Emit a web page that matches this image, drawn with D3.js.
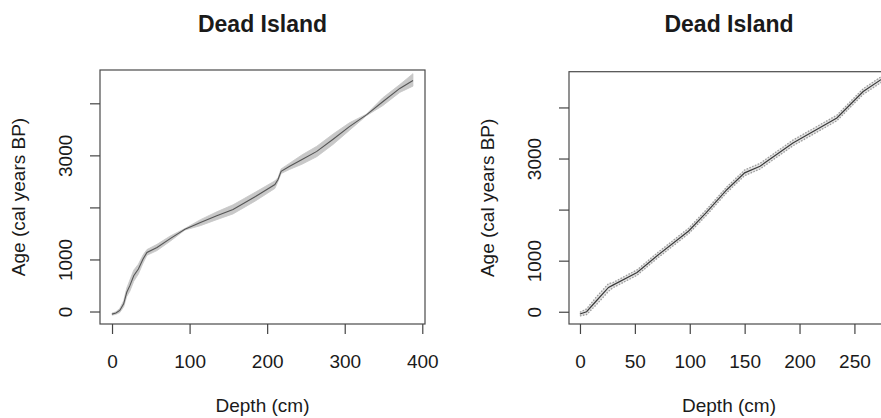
<!DOCTYPE html>
<html>
<head>
<meta charset="utf-8">
<script src="https://cdn.jsdelivr.net/npm/d3@7"></script>
<style>
	body { margin: 0; background: #fff; }
	text { font-family: "Liberation Sans", Arial, sans-serif; fill: #1a1a1a; }
	.title { font-weight: bold; font-size: 23px; }
	.lab { font-size: 19px; }
	.tick text { font-size: 19px; fill: #1a1a1a; }
	.tick line { stroke: #444; }
</style>
</head>
<body>
<svg id="chart" width="881" height="418"></svg>
<script>
// left core: depth (cm), median age and 95% range (cal years BP)
let depthA = [0, 5, 10, 15, 19, 23, 28, 34, 40, 45, 58, 75, 94, 114, 135, 156, 185, 210, 214, 218, 229, 245, 264, 285, 306, 328, 349, 371, 388];
let ageA = [-50, -30, 20, 147, 370, 497, 688, 815, 1007, 1134, 1230, 1400, 1580, 1708, 1840, 1962, 2210, 2440, 2535, 2694, 2789, 2920, 3076, 3310, 3553, 3777, 4031, 4286, 4440];
let ageLoA = [-70, -55, -20, 90, 290, 390, 580, 720, 930, 1080, 1170, 1350, 1565, 1650, 1765, 1875, 2125, 2365, 2500, 2650, 2730, 2830, 2975, 3210, 3480, 3762, 3955, 4210, 4330];
let ageHiA = [-30, -5, 60, 205, 450, 605, 795, 910, 1085, 1190, 1290, 1450, 1595, 1765, 1915, 2050, 2295, 2510, 2570, 2740, 2850, 3010, 3175, 3410, 3625, 3792, 4105, 4360, 4570];

// right core
let depthB = [0, 6, 15, 26, 30, 52, 70, 99, 115, 134, 150, 164, 194, 234, 258, 276];
let ageB = [-45, 0, 215, 476, 521, 768, 1093, 1581, 1939, 2394, 2720, 2849, 3305, 3793, 4312, 4570];
let ageLoB = [-80, -55, 140, 400, 470, 715, 1040, 1530, 1885, 2340, 2665, 2795, 3250, 3740, 4257, 4515];
let ageHiB = [-10, 55, 290, 550, 570, 820, 1145, 1635, 1995, 2450, 2775, 2905, 3360, 3848, 4367, 4625];

let yTicks = [0, 1000, 2000, 3000, 4000];
let yTickLabels = ["0", "1000", "", "3000", ""];
let xTicksA = [0, 100, 200, 300, 400];
let xTicksB = [0, 50, 100, 150, 200, 250];

let titleText = "Dead Island";
let xTitle = "Depth (cm)";
let yTitle = "Age (cal years BP)";

function drawPanel(svg, opts)
{
	let x = d3.scaleLinear().domain(opts.xDomain).range([opts.left, opts.right]);
	let y = d3.scaleLinear().domain(opts.yDomain).range([opts.bottom, opts.top]);

	let rows = opts.depth.map(function(d, i) { return {d: d, age: opts.age[i], lo: opts.lo[i], hi: opts.hi[i]}; });

	let band = d3.area().x(function(r) { return x(r.d); }).y0(function(r) { return y(r.lo); }).y1(function(r) { return y(r.hi); });
	let mid = d3.line().x(function(r) { return x(r.d); }).y(function(r) { return y(r.age); });
	let edgeLo = d3.line().x(function(r) { return x(r.d); }).y(function(r) { return y(r.lo); });
	let edgeHi = d3.line().x(function(r) { return x(r.d); }).y(function(r) { return y(r.hi); });

	svg.append("path").datum(rows).attr("d", band).attr("fill", opts.bandFill).attr("stroke", opts.bandFill).attr("stroke-width", 0.8);

	if (opts.stipple)
	{
		svg.append("path").datum(rows).attr("d", edgeLo).attr("fill", "none").attr("stroke", "#9c9c9c").attr("stroke-width", 1.3).attr("stroke-dasharray", "1.5,1.5");
		svg.append("path").datum(rows).attr("d", edgeHi).attr("fill", "none").attr("stroke", "#9c9c9c").attr("stroke-width", 1.3).attr("stroke-dasharray", "1.5,1.5");
	}

	svg.append("path").datum(rows).attr("d", mid).attr("fill", "none").attr("stroke", opts.lineColor).attr("stroke-width", opts.lineWidth);

	// box
	svg.append("rect").attr("x", opts.left).attr("y", opts.top).attr("width", opts.right - opts.left).attr("height", opts.bottom - opts.top)
		.attr("fill", "none").attr("stroke", "#4a4a4a").attr("stroke-width", 1.2);

	let xAxis = svg.append("g").attr("transform", "translate(0," + opts.bottom + ")")
		.call(d3.axisBottom(x).tickValues(opts.xTicks).tickSize(10).tickPadding(20.5).tickFormat(d3.format("d")));
	xAxis.select(".domain").remove();
	xAxis.selectAll(".tick line").attr("stroke-width", 1.2);

	let yAxis = svg.append("g").attr("transform", "translate(" + opts.left + ",0)")
		.call(d3.axisLeft(y).tickValues(yTicks).tickSize(10).tickFormat(function(v, i) { return yTickLabels[i]; }));
	yAxis.select(".domain").remove();
	yAxis.selectAll(".tick line").attr("stroke-width", 1.2);
	yAxis.selectAll(".tick text").attr("transform", "rotate(-90)").attr("x", 0).attr("y", -28).attr("dy", 0).attr("text-anchor", "middle");

	let cx = (opts.left + opts.right) / 2;
	let cy = (opts.top + opts.bottom) / 2;

	svg.append("text").attr("class", "title").attr("x", cx).attr("y", 32).attr("text-anchor", "middle").text(titleText);
	svg.append("text").attr("class", "lab").attr("x", cx).attr("y", 412).attr("text-anchor", "middle").text(xTitle);
	svg.append("text").attr("class", "lab").attr("transform", "translate(" + (opts.left - 75) + "," + cy + ") rotate(-90)").attr("text-anchor", "middle").text(yTitle);
}

let svg = d3.select("#chart");

drawPanel(svg, {
	depth: depthA, age: ageA, lo: ageLoA, hi: ageHiA, xTicks: xTicksA,
	xDomain: [-15.5, 403.5], yDomain: [-240, 4640],
	left: 100, right: 425, top: 70, bottom: 324,
	bandFill: "#c8c8c8", lineColor: "#555", lineWidth: 1.1, stipple: false
});

drawPanel(svg, {
	depth: depthB, age: ageB, lo: ageLoB, hi: ageHiB, xTicks: xTicksB,
	xDomain: [-10, 281.5], yDomain: [-240, 4700],
	left: 569, right: 889, top: 71.7, bottom: 324,
	bandFill: "#e4e4e4", lineColor: "#3a3a3a", lineWidth: 1.2, stipple: true
});
</script>
</body>
</html>
